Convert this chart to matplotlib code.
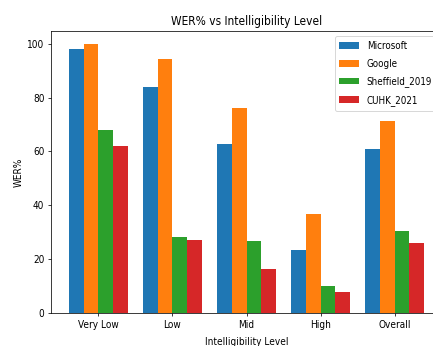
import numpy as np
import matplotlib
matplotlib.use('Agg')
import matplotlib.pyplot as plt
from matplotlib import font_manager

levels = ['Very Low', 'Low', 'Mid', 'High', 'Overall']
microsoft = [98.0, 84.0, 62.6, 23.3, 60.8]
google = [99.8, 94.3, 76.1, 36.6, 71.2]
sheffield = [68.1, 28.2, 26.6, 9.9, 30.3]
cuhk = [61.9, 27.0, 16.3, 7.8, 25.8]

series = {'Microsoft': microsoft, 'Google': google,
          'Sheffield_2019': sheffield, 'CUHK_2021': cuhk}

# the reference looks squeezed sideways, so use the condensed face if it is there
names = {f.name for f in font_manager.fontManager.ttflist}
if 'DejaVu Sans Condensed' in names:
    plt.rcParams['font.family'] = ['DejaVu Sans Condensed', 'DejaVu Sans']
else:
    plt.rcParams['font.family'] = ['DejaVu Sans']
    plt.rcParams['font.stretch'] = 'condensed'
plt.rcParams['font.size'] = 10.6

# original was a 640-wide figure shrunk down, so scale dpi instead of fonts
scale = 433 / 640
fig = plt.figure(figsize=(433 / (100 * scale), 346 / (100 * scale)), dpi=100 * scale)
# axes runs past the right edge, the picture was cropped
ax = fig.add_axes([51 / 433, 33.3 / 346, 391 / 433, 281.7 / 346])

x = np.arange(len(levels))
width = 0.2
for i, (name, vals) in enumerate(series.items()):
    ax.bar(x + (i - 1.5) * width, vals, width, label=name)

ax.set_xticks(x)
ax.set_xticklabels(levels)
ax.tick_params(axis='x', pad=4.5)
ax.set_xlabel('Intelligibility Level', labelpad=7)
ax.set_ylabel('WER%')
ax.set_title('WER% vs Intelligibility Level', fontsize=12.7, pad=6)
ax.legend(loc='upper right', fontsize=10.4, labelspacing=0.8, borderpad=0.5)

fig.savefig('out.png', dpi=100 * scale)
